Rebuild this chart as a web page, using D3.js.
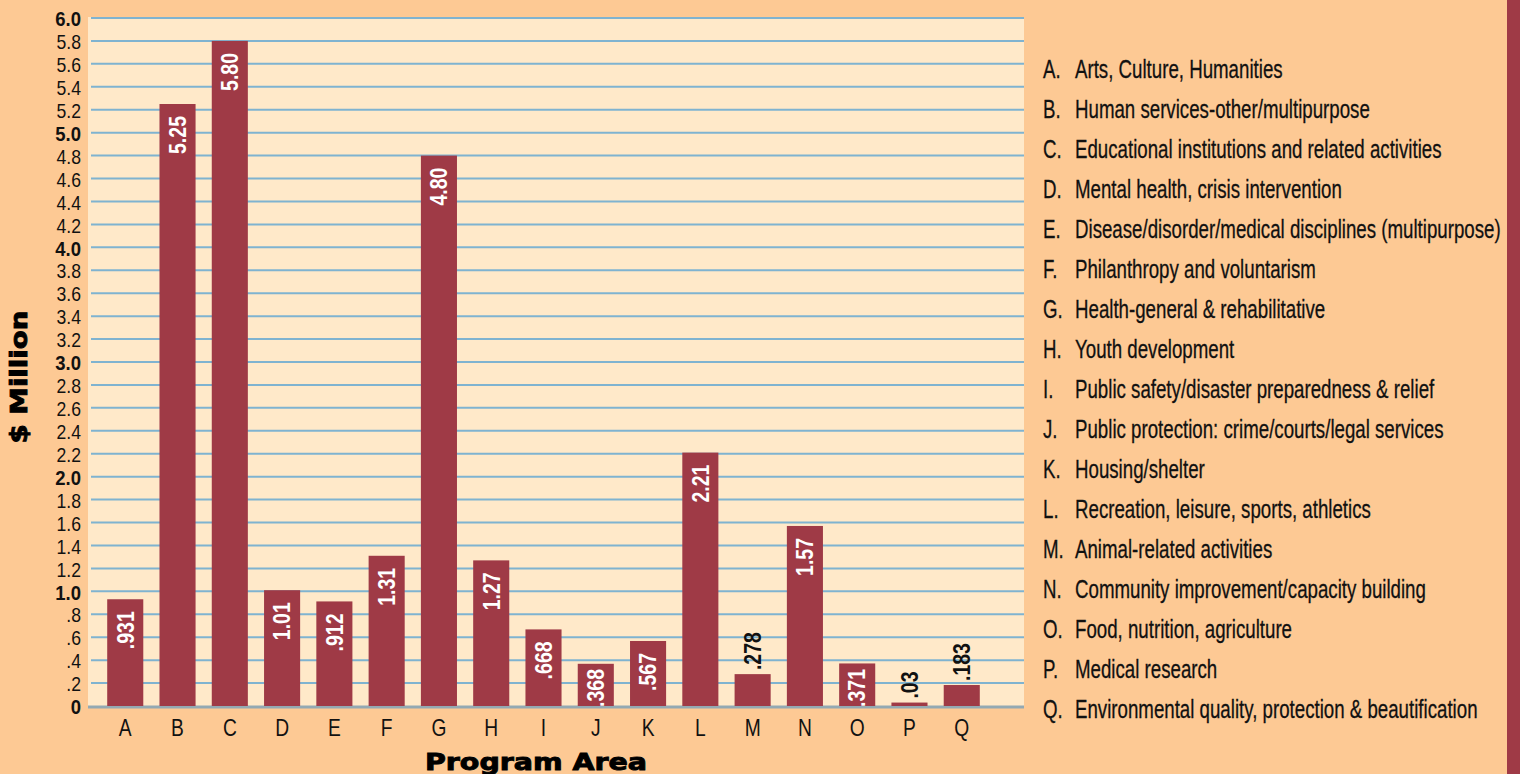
<!DOCTYPE html>
<html>
<head>
<meta charset="utf-8">
<script src="https://cdnjs.cloudflare.com/ajax/libs/d3/7.8.5/d3.min.js"></script>
<style>
    body { margin: 0; background: #fdc994; }
    svg { display: block; }
</style>
</head>
<body>
<svg width="1520" height="774"></svg>
<script>
    // data
    var categories = ["A", "B", "C", "D", "E", "F", "G", "H", "I", "J", "K", "L", "M", "N", "O", "P", "Q"];
    var values = [0.931, 5.25, 5.80, 1.01, 0.912, 1.31, 4.80, 1.27, 0.668, 0.368, 0.567, 2.21, 0.278, 1.57, 0.371, 0.03, 0.183];
    var valueLabels = [".931", "5.25", "5.80", "1.01", ".912", "1.31", "4.80", "1.27", ".668", ".368", ".567", "2.21", ".278", "1.57", ".371", ".03", ".183"];
    var programAreas = [
        "Arts, Culture, Humanities",
        "Human services-other/multipurpose",
        "Educational institutions and related activities",
        "Mental health, crisis intervention",
        "Disease/disorder/medical disciplines (multipurpose)",
        "Philanthropy and voluntarism",
        "Health-general & rehabilitative",
        "Youth development",
        "Public safety/disaster preparedness & relief",
        "Public protection: crime/courts/legal services",
        "Housing/shelter",
        "Recreation, leisure, sports, athletics",
        "Animal-related activities",
        "Community improvement/capacity building",
        "Food, nutrition, agriculture",
        "Medical research",
        "Environmental quality, protection & beautification"
    ];
    var yTicks = [0, 0.2, 0.4, 0.6, 0.8, 1.0, 1.2, 1.4, 1.6, 1.8, 2.0, 2.2, 2.4, 2.6, 2.8, 3.0,
                  3.2, 3.4, 3.6, 3.8, 4.0, 4.2, 4.4, 4.6, 4.8, 5.0, 5.2, 5.4, 5.6, 5.8, 6.0];

    var svg = d3.select("svg");
    var sans = "'Liberation Sans', Arial, sans-serif";
    var maroon = "#9f3a46";

    var plot = {left: 88, gridLeft: 91, right: 1024, top: 18, bottom: 706};

    var x = d3.scaleBand().domain(categories).range([91, 996]).padding(0.31);
    var y = d3.scaleLinear().domain([0, 6]).range([plot.bottom, plot.top]);

    function whole(d) { return Math.abs(d - Math.round(d)) < 1e-9; }

    // backgrounds
    svg.append("rect").attr("width", 1520).attr("height", 774).attr("fill", "#fdc994");
    svg.append("rect").attr("x", 1507).attr("y", 0).attr("width", 13).attr("height", 774).attr("fill", maroon);
    svg.append("rect")
        .attr("x", plot.left).attr("y", plot.top - 1)
        .attr("width", plot.right - plot.left).attr("height", plot.bottom - plot.top + 1)
        .attr("fill", "#ffe9c9");

    // gridlines
    svg.append("g").selectAll("line")
        .data(yTicks.filter(function(d) { return d > 0; }))
        .enter().append("line")
        .attr("x1", plot.gridLeft).attr("x2", plot.right)
        .attr("y1", function(d) { return y(d); })
        .attr("y2", function(d) { return y(d); })
        .attr("stroke", "#7fb3d0")
        .attr("stroke-width", 2);

    svg.append("line")
        .attr("x1", plot.left).attr("x2", plot.right)
        .attr("y1", y(0) + 1).attr("y2", y(0) + 1)
        .attr("stroke", "#93a9b3")
        .attr("stroke-width", 3);

    // y axis
    function fmt(d) {
        if (d === 0) return "0";
        if (d < 1) return d.toFixed(1).replace(/^0/, "");
        return d.toFixed(1);
    }
    var yAxis = svg.append("g")
        .attr("transform", "translate(81,0)")
        .attr("font-size", null)
        .call(d3.axisLeft(y).tickValues(yTicks).tickSize(0).tickPadding(0).tickFormat(fmt));
    yAxis.select(".domain").remove();
    yAxis.attr("font-size", null).attr("font-family", null);
    yAxis.selectAll("text")
        .attr("fill", "#111")
        .attr("dy", "0.38em")
        .attr("transform", "scale(0.88,1)")
        .attr("font-family", sans)
        .attr("font-size", function(d) { return whole(d) ? 21 : 20; })
        .attr("font-weight", function(d) { return whole(d) ? "bold" : "normal"; });

    // x axis
    var xAxis = svg.append("g")
        .attr("transform", "translate(0," + plot.bottom + ")")
        .call(d3.axisBottom(x).tickSize(0));
    xAxis.select(".domain").remove();
    xAxis.attr("font-size", null).attr("font-family", null);
    xAxis.selectAll("text")
        .attr("y", 30)
        .attr("dy", 0)
        .attr("fill", "#111")
        .attr("transform", "scale(0.8,1)")
        .attr("font-family", sans)
        .attr("font-size", 24);

    // bars
    svg.append("g").selectAll("rect")
        .data(values)
        .enter().append("rect")
        .attr("x", function(d, i) { return x(categories[i]); })
        .attr("y", function(d) { return y(d); })
        .attr("width", x.bandwidth())
        .attr("height", function(d) { return y(0) - y(d); })
        .attr("fill", maroon);

    // value labels, rotated, inside the bar unless the bar is too short
    var vl = svg.append("g").selectAll("text")
        .data(values)
        .enter().append("text")
        .attr("dy", "0.36em")
        .attr("text-anchor", function(d) { return d < 0.3 ? "start" : "end"; })
        .attr("fill", function(d) { return d < 0.3 ? "#111" : "#fff"; })
        .style("font-family", sans)
        .style("font-size", "23px")
        .style("font-weight", "bold")
        .text(function(d, i) { return valueLabels[i]; });
    var ref = vl.filter(function(d, i) { return valueLabels[i] === "5.25"; }).node();
    var vs = 38 / ref.getComputedTextLength();
    vl.attr("transform", function(d, i) {
        var cx = x(categories[i]) + x.bandwidth() / 2;
        var len = this.getComputedTextLength() * vs;
        var ty = d < 0.3 ? y(d) - 4 : Math.min(y(d) + 12, y(0) - len + 1);
        return "translate(" + cx + "," + ty + ") rotate(-90) scale(" + vs + ",1)";
    });

    // axis titles
    svg.append("text")
        .attr("transform", "translate(19,377) rotate(-90)")
        .attr("dy", "0.36em")
        .attr("text-anchor", "middle")
        .attr("fill", "#000")
        .attr("stroke", "#000").attr("stroke-width", 0.9)
        .attr("textLength", 133).attr("lengthAdjust", "spacingAndGlyphs")
        .style("font-family", "'DejaVu Sans', sans-serif")
        .style("font-size", "23px")
        .style("font-weight", "bold")
        .text("$ Million");

    svg.append("text")
        .attr("x", 536).attr("y", 770)
        .attr("text-anchor", "middle")
        .attr("fill", "#000")
        .attr("stroke", "#000").attr("stroke-width", 0.9)
        .attr("textLength", 222).attr("lengthAdjust", "spacingAndGlyphs")
        .style("font-family", "'DejaVu Sans', sans-serif")
        .style("font-size", "23px")
        .style("font-weight", "bold")
        .text("Program Area");

    // legend
    var items = svg.append("g").attr("class", "legend").selectAll("g")
        .data(programAreas)
        .enter().append("g")
        .attr("transform", function(d, i) { return "translate(0," + (78 + i * 40) + ")"; });

    var letters = items.append("text")
        .attr("fill", "#111")
        .attr("stroke", "#111").attr("stroke-width", 0.3)
        .style("font-family", sans)
        .style("font-size", "26px")
        .text(function(d, i) { return categories[i] + "."; });

    var names = items.append("text")
        .attr("fill", "#111")
        .attr("stroke", "#111").attr("stroke-width", 0.3)
        .style("font-family", sans)
        .style("font-size", "26px")
        .text(function(d) { return d; });

    // squeeze the legend to the width it has in the print
    var widest = d3.max(names.nodes(), function(n) { return n.getComputedTextLength(); });
    var sx = 426 / widest;
    names.attr("transform", "translate(1075,0) scale(" + sx + ",1)");
    letters.attr("transform", "translate(1043,0) scale(" + sx + ",1)");
</script>
</body>
</html>
